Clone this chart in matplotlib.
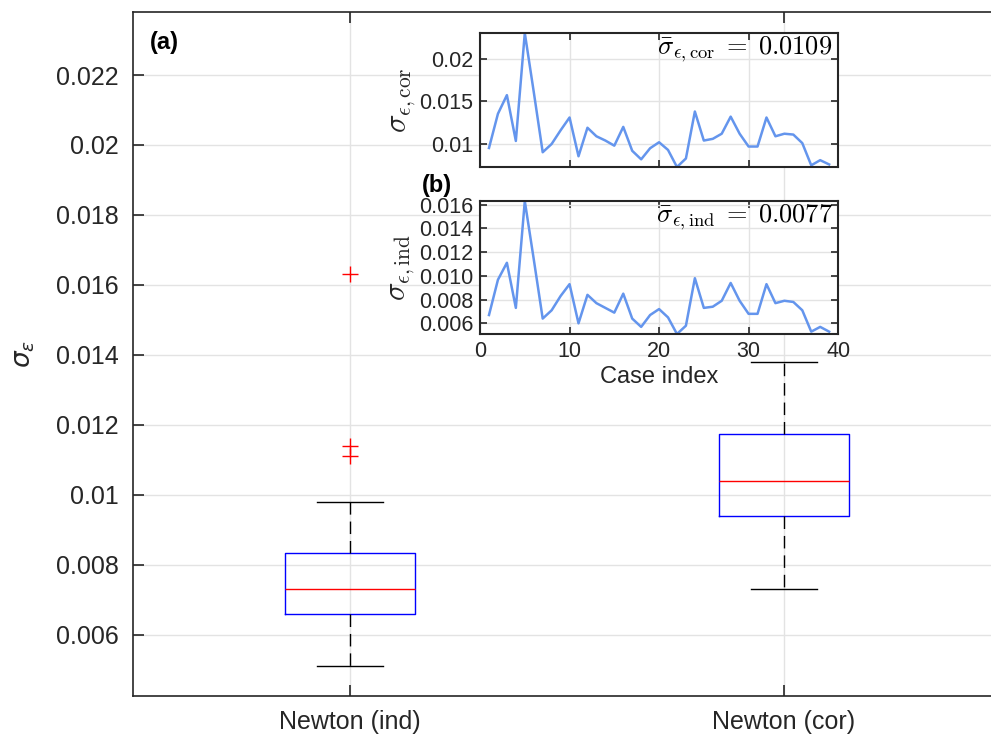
import numpy as np
import matplotlib
matplotlib.use('Agg')
import matplotlib.pyplot as plt

plt.rcParams['font.family'] = ['Liberation Sans', 'DejaVu Sans']

# sigma_eps per case
case_idx = np.arange(1, 40)
sigma_ind = [0.0067, 0.00967, 0.0111, 0.0073, 0.0163, 0.0114, 0.0064, 0.0071, 0.0083, 0.0093,
             0.0060, 0.0084, 0.0077, 0.0073, 0.0069, 0.0085, 0.0064, 0.0057, 0.0067, 0.0072,
             0.0065, 0.0051, 0.0058, 0.0098, 0.0073, 0.0074, 0.0079, 0.0094, 0.0079, 0.0068,
             0.0068, 0.0093, 0.0077, 0.0079, 0.0078, 0.0071, 0.0053, 0.0057, 0.0053]
sigma_cor = [0.00953, 0.01354, 0.01572, 0.01035, 0.0230, 0.0161, 0.00903, 0.0100, 0.0116, 0.0131,
             0.00856, 0.0119, 0.0109, 0.0104, 0.0098, 0.0120, 0.0092, 0.0082, 0.0095, 0.0102,
             0.0093, 0.0073, 0.0083, 0.0138, 0.0104, 0.0106, 0.0112, 0.0132, 0.0112, 0.0097,
             0.0097, 0.0131, 0.0109, 0.0112, 0.0111, 0.0101, 0.0075, 0.0081, 0.0076]
labels = ['Newton (ind)', 'Newton (cor)']
mean_ind_txt = '0.0077'
mean_cor_txt = '0.0109'

axcol = '#262626'
gridcol = '#e3e3e3'
linecol = '#6495ED'

fig = plt.figure(figsize=(9.91, 7.38), dpi=100)

# main boxplot axes (right edge runs past the figure, as in the original)
ax = fig.add_axes([0.1342, 0.0569, 0.8759, 0.9268])
bp = ax.boxplot([sigma_ind, sigma_cor], positions=[1, 2], widths=0.3, capwidths=0.15,
                whis=1.5,
                boxprops=dict(color='blue', linewidth=1.0),
                medianprops=dict(color='red', linewidth=1.0),
                whiskerprops=dict(color='black', linewidth=1.0, linestyle=(0, (9, 5))),
                capprops=dict(color='black', linewidth=1.0),
                flierprops=dict(marker='+', markeredgecolor='red', markersize=11,
                                markeredgewidth=1.0, linestyle='none'))
ax.set_xlim(0.5, 2.5)
ax.set_ylim(0.00425, 0.0238)
ax.set_yticks([0.006, 0.008, 0.01, 0.012, 0.014, 0.016, 0.018, 0.02, 0.022])
ax.set_yticklabels(['0.006', '0.008', '0.01', '0.012', '0.014', '0.016', '0.018', '0.02', '0.022'])
ax.set_xticks([1, 2])
ax.set_xticklabels(labels)
ax.tick_params(direction='in', length=8, width=1.2, labelsize=18, colors=axcol,
               labelcolor=axcol, pad=10, top=True)
ax.grid(True, color=gridcol, linewidth=1.0)
ax.set_axisbelow(True)
for s in ax.spines.values():
    s.set_color(axcol)
    s.set_linewidth(1.2)
ax.set_ylabel(r'$\sigma_{\epsilon}$', fontsize=19, color=axcol, labelpad=14,
              math_fontfamily='dejavusans')
ax.text(0.019, 0.955, '(a)', transform=ax.transAxes, fontsize=17, fontweight='bold',
        color='black', va='center')


def style_inset(a):
    a.tick_params(direction='in', length=5, width=1.2, labelsize=15.5, colors=axcol,
                  labelcolor=axcol, top=True, right=True, pad=5)
    a.grid(True, color=gridcol, linewidth=1.0)
    a.set_axisbelow(True)
    for s in a.spines.values():
        s.set_color(axcol)
        s.set_linewidth(1.5)
    a.set_xlim(0, 40)
    a.set_xticks([0, 10, 20, 30, 40])


# inset (cor)
ax1 = fig.add_axes([0.4844, 0.7737, 0.3613, 0.1816])
ax1.plot(case_idx, sigma_cor, color=linecol, linewidth=1.8)
style_inset(ax1)
ax1.set_ylim(min(sigma_cor), max(sigma_cor))
ax1.set_yticks([0.01, 0.015, 0.02])
ax1.set_yticklabels(['0.01', '0.015', '0.02'])
ax1.tick_params(labelbottom=False)
ax1.set_ylabel(r'$\sigma_{\epsilon,\mathrm{cor}}$', fontsize=22, color=axcol,
               math_fontfamily='cm', labelpad=1)
ax1.text(0.985, 0.99, r'$\bar{\sigma}_{\epsilon,\mathrm{cor}}\;=\;' + mean_cor_txt + '$',
         transform=ax1.transAxes, ha='right', va='top', fontsize=19, math_fontfamily='cm')

# inset (ind)
ax2 = fig.add_axes([0.4844, 0.5474, 0.3613, 0.1802])
ax2.plot(case_idx, sigma_ind, color=linecol, linewidth=1.8)
style_inset(ax2)
ax2.set_ylim(min(sigma_ind), max(sigma_ind))
ax2.set_yticks([0.006, 0.008, 0.010, 0.012, 0.014, 0.016])
ax2.set_yticklabels(['0.006', '0.008', '0.010', '0.012', '0.014', '0.016'])
ax2.set_xlabel('Case index', fontsize=17, color=axcol, labelpad=3)
ax2.set_ylabel(r'$\sigma_{\epsilon,\mathrm{ind}}$', fontsize=22, color=axcol,
               math_fontfamily='cm', labelpad=1)
ax2.text(0.985, 0.99, r'$\bar{\sigma}_{\epsilon,\mathrm{ind}}\;=\;' + mean_ind_txt + '$',
         transform=ax2.transAxes, ha='right', va='top', fontsize=19, math_fontfamily='cm')
fig.text(0.441, 0.749, '(b)', fontsize=17, fontweight='bold', color='black',
         ha='center', va='center')

fig.savefig('out.png', dpi=100)
